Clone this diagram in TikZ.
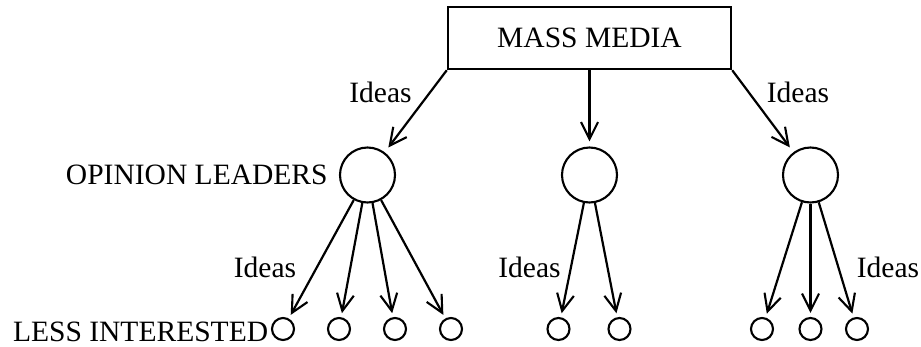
\documentclass[tikz,border=0pt]{standalone}
\usepackage{fontspec}
\setmainfont{Liberation Serif}
\usepackage{tikz}
\usetikzlibrary{arrows.meta, positioning}

\begin{document}
\begin{tikzpicture}[
  font=\fontsize{16.8}{19}\selectfont,
  box/.style={draw, line width=1.4pt, minimum width=5.66cm, minimum height=1.24cm},
  leader/.style={draw, circle, line width=1.2pt, minimum size=1.1cm, inner sep=0pt},
  follower/.style={draw, circle, line width=1.2pt, minimum size=0.44cm, inner sep=0pt},
  flow/.style={-{Straight Barb[length=0.34cm, width=0.34cm, line width=1.2pt]}, line width=1.25pt},
  lbl/.style={inner sep=0pt}
]
  \useasboundingbox (0,0) rectangle (18.42,-6.92);

  \node[box] (media) at (11.79,-0.76) {MASS MEDIA};

  % opinion leaders
  \node[leader] (l1) at (7.35,-3.5)  {};
  \node[leader] (l2) at (11.79,-3.5) {};
  \node[leader] (l3) at (16.21,-3.5) {};

  % less interested
  \node[follower] (a1) at (5.66,-6.58)  {};
  \node[follower] (a2) at (6.78,-6.58)  {};
  \node[follower] (a3) at (7.90,-6.58)  {};
  \node[follower] (a4) at (9.02,-6.58)  {};
  \node[follower] (b1) at (11.17,-6.58) {};
  \node[follower] (b2) at (12.39,-6.58) {};
  \node[follower] (c1) at (15.24,-6.58) {};
  \node[follower] (c2) at (16.21,-6.58) {};
  \node[follower] (c3) at (17.14,-6.58) {};

  \node[lbl, left=0.22cm of l1] (opl) {OPINION LEADERS};
  \node[lbl, left=0.05cm of a1, yshift=-0.05cm] (lsi) {LESS INTERESTED};

  \draw[flow, shorten >=0.12cm] (media.south west) -- (l1);
  \draw[flow, shorten >=0.1cm]  (media.south) -- (l2);
  \draw[flow, shorten >=0.12cm] (media.south east) -- (l3);

  \foreach \s in {a1,a2,a3,a4}
    \draw[flow, shorten >=0.08cm] (l1) -- (\s);
  \foreach \s in {b1,b2}
    \draw[flow, shorten >=0.08cm] (l2) -- (\s);
  \foreach \s in {c1,c2,c3}
    \draw[flow, shorten >=0.08cm] (l3) -- (\s);

  \node[lbl, anchor=base] (ia) at (7.61,-2.04)  {Ideas};
  \node[lbl, anchor=base] (ib) at (15.96,-2.04) {Ideas};
  \node[lbl, anchor=base] (ic) at (5.30,-5.54)  {Ideas};
  \node[lbl, anchor=base] (id) at (10.59,-5.54) {Ideas};
  \node[lbl, anchor=base] (ie) at (17.76,-5.54) {Ideas};
\end{tikzpicture}
\end{document}
